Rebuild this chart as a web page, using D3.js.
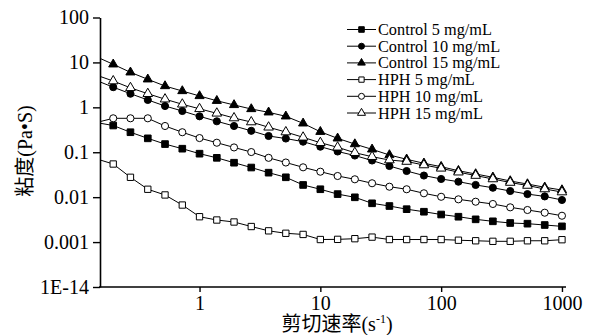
<!DOCTYPE html>
<html>
<head>
<meta charset="utf-8">
<script src="https://cdn.jsdelivr.net/npm/d3@7"></script>
<style>
  body { margin: 0; background: #fff; }
  text { font-family: "Liberation Serif", "Noto Sans CJK SC", serif; fill: #000; }
</style>
</head>
<body>
<div id="chart"></div>
<script>
// shear rate (1/s), 7 points per decade; the first one sits just left of the axis
var shearRate = [0.139, 0.193, 0.268, 0.373, 0.518, 0.720, 1, 1.39, 1.93, 2.68, 3.73, 5.18, 7.20,
  10, 13.9, 19.3, 26.8, 37.3, 51.8, 72.0, 100, 139, 193, 268, 373, 518, 720, 1000];

// viscosity (Pa.s)
var control5 = [0.459, 0.394, 0.279, 0.204, 0.152, 0.120, 0.0929, 0.0751, 0.0585, 0.0457, 0.0351, 0.0277, 0.0187,
  0.0150, 0.0117, 0.00993, 0.00730, 0.00635, 0.00540, 0.00474, 0.00411, 0.00367, 0.00321, 0.00290, 0.00266, 0.00257, 0.00240, 0.00224];
var control10 = [3.99, 2.81, 2.01, 1.46, 1.07, 0.828, 0.631, 0.489, 0.384, 0.300, 0.230, 0.202, 0.172,
  0.133, 0.104, 0.0845, 0.0655, 0.0494, 0.0382, 0.0303, 0.0254, 0.0221, 0.0187, 0.0162, 0.0137, 0.0117, 0.0104, 0.00865];
var control15 = [13.5, 9.07, 6.02, 4.21, 2.98, 2.31, 1.79, 1.40, 1.13, 0.918, 0.775, 0.631, 0.44,
  0.286, 0.204, 0.152, 0.116, 0.0869, 0.0697, 0.0568, 0.0477, 0.0388, 0.0328, 0.0277, 0.0229, 0.0196, 0.0166, 0.0144];
var hph5 = [0.0718, 0.0547, 0.0277, 0.0150, 0.0112, 0.00668, 0.00367, 0.00310, 0.00280, 0.00222, 0.00178, 0.00157, 0.00148,
  0.00114, 0.00115, 0.00119, 0.00129, 0.00114, 0.00114, 0.00114, 0.00114, 0.00110, 0.00107, 0.00104, 0.00104, 0.00107, 0.00107, 0.00113];
var hph10 = [0.457, 0.570, 0.570, 0.570, 0.384, 0.279, 0.207, 0.163, 0.128, 0.101, 0.0751, 0.0591, 0.0462,
  0.0369, 0.0296, 0.0250, 0.0204, 0.0171, 0.0150, 0.0122, 0.0102, 0.00895, 0.00792, 0.00705, 0.00594, 0.00518, 0.00451, 0.00386];
var hph15 = [5.25, 3.85, 2.72, 2.01, 1.52, 1.17, 0.927, 0.736, 0.578, 0.471, 0.360, 0.282, 0.215,
  0.163, 0.129, 0.0977, 0.0796, 0.0671, 0.0622, 0.052, 0.0439, 0.036, 0.0303, 0.0254, 0.0212, 0.0182, 0.0152, 0.0130];

var seriesNames = ['Control 5 mg/mL', 'Control 10 mg/mL', 'Control 15 mg/mL', 'HPH 5 mg/mL', 'HPH 10 mg/mL', 'HPH 15 mg/mL'];
var seriesValues = [control5, control10, control15, hph5, hph10, hph15];

// axis ticks and their labels (the bottom one really says 1E-14 in the original)
var xTicks = [1, 10, 100, 1000];
var xTickLabels = ['1', '10', '100', '1000'];
var yTicks = [100, 10, 1, 0.1, 0.01, 0.001, 0.0001];
var yTickLabels = ['100', '10', '1', '0.1', '0.01', '0.001', '1E-14'];

var width = 591;
var height = 335;
var plotLeft = 100, plotRight = 566, plotTop = 17.5, plotBottom = 287;

var x = d3.scaleLog().domain([0.15, 1080]).range([plotLeft, plotRight]);
var y = d3.scaleLog().domain([0.0001, 100]).range([plotBottom, plotTop]);

var shapes = [d3.symbolSquare, d3.symbolCircle, d3.symbolTriangle, d3.symbolSquare, d3.symbolCircle, d3.symbolTriangle];
var sizes = [44, 40, 36, 40, 40, 40];
var filled = [true, true, true, false, false, false];

var svg = d3.select('#chart').append('svg')
  .attr('width', width)
  .attr('height', height);

svg.append('clipPath').attr('id', 'plot')
  .append('rect').attr('x', plotLeft).attr('y', 0).attr('width', plotRight - plotLeft).attr('height', plotBottom);

var line = d3.line()
  .x(function(d) { return x(d[0]); })
  .y(function(d) { return y(d[1]); });

// curves: control first, HPH on top
seriesValues.forEach(function(vals, i) {
  var pts = shearRate.map(function(s, j) { return [s, vals[j]]; });

  svg.append('path')
    .datum(pts)
    .attr('clip-path', 'url(#plot)')
    .attr('d', line)
    .attr('fill', 'none')
    .attr('stroke', '#000')
    .attr('stroke-width', 1);

  svg.append('g').selectAll('path')
    .data(pts.filter(function(d) { return d[0] >= x.domain()[0]; }))
    .enter().append('path')
    .attr('transform', function(d) { return 'translate(' + x(d[0]) + ',' + y(d[1]) + ')'; })
    .attr('d', d3.symbol().type(shapes[i]).size(sizes[i]))
    .attr('fill', filled[i] ? '#000' : '#fff')
    .attr('stroke', '#000')
    .attr('stroke-width', 1);
});

// axes
var xAxis = svg.append('g')
  .attr('transform', 'translate(0,' + plotBottom + ')')
  .call(d3.axisBottom(x).tickValues(xTicks).tickSize(5).tickSizeOuter(0)
    .tickFormat(function(d, i) { return xTickLabels[i]; }));

var yAxis = svg.append('g')
  .attr('transform', 'translate(' + plotLeft + ',0)')
  .call(d3.axisLeft(y).tickValues(yTicks).tickSize(7).tickSizeOuter(0)
    .tickFormat(function(d, i) { return yTickLabels[i]; }));

[xAxis, yAxis].forEach(function(a) {
  a.select('.domain').attr('stroke', '#000').attr('stroke-width', 1.6);
  a.selectAll('.tick line').attr('stroke', '#000').attr('stroke-width', 1.4);
  a.selectAll('.tick text')
    .attr('font-family', '"Liberation Serif", serif')
    .attr('font-size', 20)
    .attr('fill', '#000');
});
xAxis.select('.domain').attr('d', 'M' + (plotLeft - 1) + ',0H' + plotRight);
xAxis.selectAll('.tick text').attr('y', 9).attr('dy', '0.71em');
yAxis.selectAll('.tick text').attr('x', -11);

// axis titles
svg.append('text')
  .attr('transform', 'translate(32,151) rotate(-90)')
  .attr('text-anchor', 'middle')
  .attr('font-size', 20)
  .text('粘度(Pa•S)');

var xt = svg.append('text')
  .attr('x', 337)
  .attr('y', 331)
  .attr('text-anchor', 'middle')
  .attr('font-size', 20);
xt.append('tspan').text('剪切速率(s');
xt.append('tspan').attr('font-size', 12).attr('dy', -8).text('-1');
xt.append('tspan').attr('dy', 8).text(')');

// legend
var legend = svg.append('g').attr('transform', 'translate(347,29.5)');
seriesNames.forEach(function(name, i) {
  var row = legend.append('g').attr('transform', 'translate(0,' + (i * 16.7) + ')');
  row.append('line')
    .attr('x1', 0).attr('x2', 29).attr('y1', 0).attr('y2', 0)
    .attr('stroke', '#000').attr('stroke-width', 1);
  row.append('path')
    .attr('transform', 'translate(14.5,0)')
    .attr('d', d3.symbol().type(shapes[i]).size(sizes[i] * 0.7))
    .attr('fill', filled[i] ? '#000' : '#fff')
    .attr('stroke', '#000')
    .attr('stroke-width', 1);
  row.append('text')
    .attr('x', 31)
    .attr('y', 5.5)
    .attr('font-size', 16.3)
    .text(name);
});
</script>
</body>
</html>
